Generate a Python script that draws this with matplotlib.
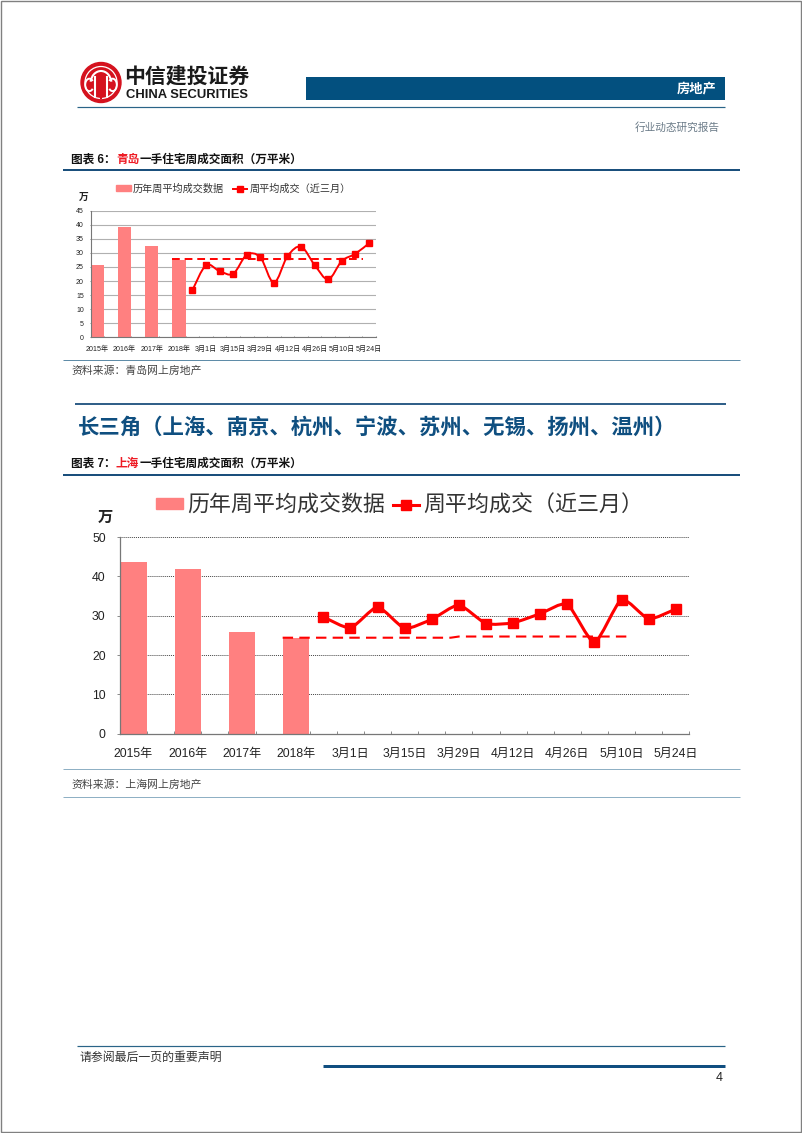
"""Broker report page with two weekly housing transaction charts."""
import numpy as np
import matplotlib
matplotlib.use('Agg')
import matplotlib.pyplot as plt
from matplotlib.lines import Line2D
from matplotlib.patches import Circle, PathPatch, Patch, Rectangle, Arc
from matplotlib.path import Path

plt.rcParams['font.family'] = ['Liberation Sans', 'Noto Sans CJK SC', 'DejaVu Sans']

# x labels, one every two slots
TICK_LABELS = ['2015年', '2016年', '2017年', '2018年', '3月1日', '3月15日',
               '3月29日', '4月12日', '4月26日', '5月10日', '5月24日']
BAR_X = [0, 2, 4, 6]
WEEK_X = [7, 8, 9, 10, 11, 12, 13, 14, 15, 16, 17, 18, 19, 20]

# Qingdao
QD_BARS = [25.7, 39.3, 32.3, 27.5]
QD_WEEKS = [16.8, 25.6, 23.5, 22.6, 29.3, 28.4, 19.4, 28.8, 32.2, 25.7, 20.6, 27.1, 29.7, 33.4]
QD_AVG_X = [5.5, 19.6]
QD_AVG = [27.7, 27.7]

# Shanghai
SH_BARS = [43.6, 41.9, 25.8, 24.4]
SH_WEEKS = [29.7, 26.9, 32.2, 26.8, 29.1, 32.7, 28.0, 28.2, 30.5, 32.9, 23.2, 34.1, 29.2, 31.7]
SH_AVG_X = [5.5, 11.7, 12, 18.3]
SH_AVG = [24.4, 24.4, 24.7, 24.7]

BAR_LABEL = '历年周平均成交数据'
LINE_LABEL = '周平均成交（近三月）'

W, H = 802, 1133
BAR_COLOR = '#ff8080'
RED = '#ff0000'
NAVY = '#1a4f7c'


def make_axes(fig, left, right, top, bottom):
    """Axes from pixel edges, y counted from the top of the page."""
    return fig.add_axes([left / W, 1 - bottom / H, (right - left) / W, (bottom - top) / H])


def smooth_path(xs, ys, tension):
    """Bezier path through the points, like a smoothed Excel line."""
    pts = np.column_stack([xs, ys]).astype(float)
    verts = [pts[0]]
    codes = [Path.MOVETO]
    for i in range(len(pts) - 1):
        before = pts[max(i - 1, 0)]
        after = pts[min(i + 2, len(pts) - 1)]
        verts += [pts[i] + (pts[i + 1] - before) * tension,
                  pts[i + 1] - (after - pts[i]) * tension, pts[i + 1]]
        codes += [Path.CURVE4] * 3
    return Path(verts, codes)


def draw_chart(ax, bars, weeks, avg_x, avg, ymax, ystep, sizes):
    """One bar + smoothed line chart on 21 category slots."""
    ax.bar(BAR_X, bars, width=sizes['bar_w'], color=BAR_COLOR, zorder=2)
    ax.plot(avg_x, avg, color=RED, lw=sizes['dash_lw'], dashes=sizes['dashes'], zorder=3)
    ax.add_patch(PathPatch(smooth_path(WEEK_X, weeks, sizes['tension']), fill=False, edgecolor=RED,
                           lw=sizes['line_lw'], zorder=4))
    ax.plot(WEEK_X, weeks, ls='none', marker='s', ms=sizes['ms'], color=RED, zorder=5)

    ax.set_xlim(-0.5, 20.5)
    ax.set_ylim(0, ymax)
    ax.set_yticks(np.arange(0, ymax + 1, ystep))
    ax.set_xticks(range(0, 21, 2), TICK_LABELS)
    ax.set_xticks(np.arange(-0.5, 21, 1), minor=True)
    ax.tick_params(axis='x', which='major', length=0, labelsize=sizes['tick'], pad=sizes['xpad'],
                   labelcolor='#222222')
    ax.tick_params(axis='x', which='minor', direction='in', length=sizes['tick_len'],
                   width=0.6, color='#777777')
    ax.tick_params(axis='y', direction='out', length=sizes['tick_len'], width=0.6, color='#777777',
                   labelsize=sizes['ytick'], pad=sizes['ypad'], labelcolor='#222222')
    ax.grid(axis='y', color=sizes['grid'], lw=sizes['grid_lw'], ls=sizes['grid_ls'], zorder=1)
    ax.set_axisbelow(True)
    for side in ['top', 'right']:
        ax.spines[side].set_visible(False)
    for side in ['left', 'bottom']:
        ax.spines[side].set_color('#777777')
        ax.spines[side].set_linewidth(sizes['spine'])

    handles = [Patch(color=BAR_COLOR, label=BAR_LABEL),
               Line2D([], [], color=RED, lw=sizes['line_lw'], marker='s', ms=sizes['ms'],
                      label=LINE_LABEL)]
    ax.legend(handles=handles, ncol=2, loc='center', frameon=False, fontsize=sizes['legend'],
              bbox_to_anchor=(sizes['leg_x'] / W, 1 - sizes['leg_y'] / H),
              bbox_transform=ax.figure.transFigure, handlelength=sizes['handle'], handleheight=0.4,
              handletextpad=sizes['text_gap'], columnspacing=sizes['col_gap'], labelcolor='#333333',
              borderpad=0, borderaxespad=0)


def hline(page, y, x0, x1, color, px):
    page.plot([x0, x1], [y, y], color=color, lw=px * 0.72, solid_capstyle='butt')


def figure_title(page, y, number, city):
    page.text(71, y, f'图表 {number}：', fontsize=8.4, fontweight='bold', va='center', color='#111111')
    page.text(116, y, city, fontsize=8.4, fontweight='bold', va='center', color='#ee1c25')
    page.text(140, y, '一手住宅周成交面积（万平米）', fontsize=8.4, fontweight='bold', va='center',
              color='#111111')


def draw_logo(page, cx, cy, r):
    page.add_patch(Circle((cx, cy), r, color='#d5121e', zorder=3))
    page.add_patch(Circle((cx, cy), r * 0.8, fill=False, edgecolor='white', lw=0.9, zorder=4))
    # the letters C I T I C inside the ring
    for dx in [-0.28 * r, 0.28 * r]:
        page.plot([cx + dx, cx + dx], [cy - 0.28 * r, cy + 0.72 * r], color='white', lw=1.5, zorder=4)
    page.plot([cx, cx], [cy - 0.28 * r, cy + 0.75 * r], color='#d5121e', lw=1.5, zorder=4)
    page.add_patch(Arc((cx, cy + 0.05 * r), 1.05 * r, 1.25 * r, theta1=190, theta2=350,
                       edgecolor='white', lw=1.5, zorder=4))
    page.add_patch(Arc((cx - 0.58 * r, cy + 0.12 * r), 0.42 * r, 0.62 * r, theta1=50, theta2=310,
                       edgecolor='white', lw=1.4, zorder=4))
    page.add_patch(Arc((cx + 0.58 * r, cy + 0.12 * r), 0.42 * r, 0.62 * r, theta1=-130, theta2=130,
                       edgecolor='white', lw=1.4, zorder=4))


fig = plt.figure(figsize=(W / 100, H / 100), dpi=100, facecolor='white')

# everything outside the charts is placed in page pixels
page = fig.add_axes([0, 0, 1, 1])
page.set_xlim(0, W)
page.set_ylim(H, 0)
page.axis('off')

page.add_patch(Rectangle((0.5, 0.5), W - 1.5, H - 2, fill=False, edgecolor='#808080', lw=1))
draw_logo(page, 101, 82.5, 20)
page.text(124.5, 76.5, '中信建投证券', fontsize=15, fontweight='bold', va='center', color='#1a1a1a')
page.text(126, 95, 'CHINA SECURITIES', fontsize=9.4, fontweight='bold', va='center', color='#1a1a1a')
page.add_patch(Rectangle((306, 77), 419, 22.5, color='#03507f', lw=0))
page.text(716, 89.5, '房地产', fontsize=9.5, fontweight='bold', color='white', ha='right', va='center')
hline(page, 107, 77, 725, '#2a6488', 1.2)
page.text(720, 127.5, '行业动态研究报告', fontsize=7.7, color='#6b7b88', ha='right', va='center')

figure_title(page, 160, 6, '青岛')
hline(page, 170, 63, 740, NAVY, 2)
hline(page, 360, 63, 740, '#5f8ca8', 1)
page.text(71, 370.5, '资料来源：青岛网上房地产', fontsize=7.8, style='italic', color='#444444', va='center')

hline(page, 403.5, 75, 726, NAVY, 1.8)
page.text(78, 427.5, '长三角（上海、南京、杭州、宁波、苏州、无锡、扬州、温州）', fontsize=15.4,
          fontweight='bold', color='#0f4f80', va='center')
figure_title(page, 464, 7, '上海')
hline(page, 474.5, 63, 740, NAVY, 2)
hline(page, 769, 63, 740, '#8fb0c4', 1)
page.text(71, 784.5, '资料来源：上海网上房地产', fontsize=7.8, style='italic', color='#444444', va='center')
hline(page, 797, 63, 740, '#8fb0c4', 1)

hline(page, 1045.5, 77, 725, '#2a6488', 1.2)
page.text(80, 1057.5, '请参阅最后一页的重要声明', fontsize=8.6, color='#333333', va='center')
hline(page, 1066, 323, 725, '#104e80', 3)
page.text(723, 1078, '4', fontsize=9, color='#222222', ha='right', va='center')

page.text(84, 197, '万', fontsize=7, fontweight='bold', ha='center', va='center', color='#222222')
page.text(105.5, 518, '万', fontsize=11, fontweight='bold', ha='center', va='center', color='#222222')

ax_qd = make_axes(fig, 90.7, 375.7, 210.7, 337.3)
ax_qd.patch.set_alpha(0)
draw_chart(ax_qd, QD_BARS, QD_WEEKS, QD_AVG_X, QD_AVG, 45, 5, {
    'bar_w': 0.98, 'dash_lw': 1.4, 'dashes': (4, 2.5), 'line_lw': 1.4, 'ms': 4.3, 'tension': 1 / 6,
    'tick': 5.1, 'ytick': 5, 'xpad': 6, 'ypad': 4, 'tick_len': 1, 'grid': '#b0b0b0', 'grid_lw': 0.8,
    'grid_ls': '-', 'spine': 0.8, 'legend': 7.3, 'leg_x': 233.5, 'leg_y': 188.5, 'handle': 1.45,
    'text_gap': 0.2, 'col_gap': 0.85})

ax_sh = make_axes(fig, 120, 689.3, 537, 733.7)
ax_sh.patch.set_alpha(0)
draw_chart(ax_sh, SH_BARS, SH_WEEKS, SH_AVG_X, SH_AVG, 50, 10, {
    'bar_w': 0.97, 'dash_lw': 1.5, 'dashes': (5, 3), 'line_lw': 2.2, 'ms': 7.4, 'tension': 1 / 10,
    'tick': 8.7, 'ytick': 8.8, 'xpad': 10, 'ypad': 8.3, 'tick_len': 2, 'grid': '#444444', 'grid_lw': 0.7,
    'grid_ls': (0, (1, 1)), 'spine': 0.9, 'legend': 15.8, 'leg_x': 400, 'leg_y': 506, 'handle': 1.2,
    'text_gap': 0.2, 'col_gap': 0.35})

fig.savefig('out.png', dpi=100)
